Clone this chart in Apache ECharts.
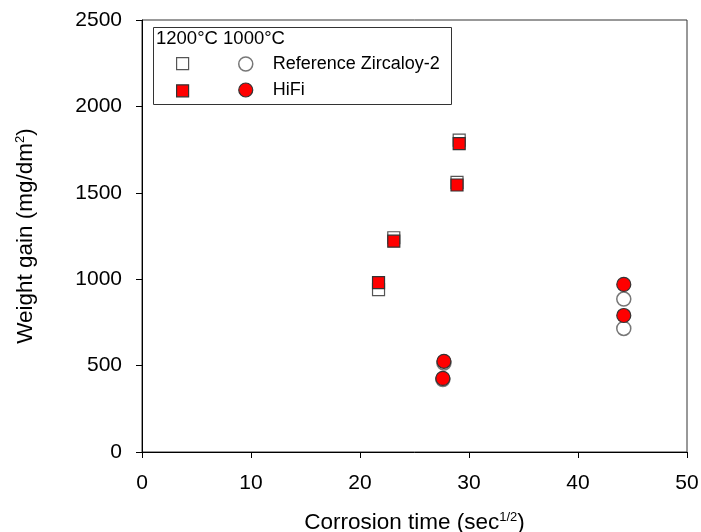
<!DOCTYPE html>
<html>
<head>
<meta charset="utf-8">
<script src="https://cdn.jsdelivr.net/npm/echarts@6/dist/echarts.min.js"></script>
<style>html,body{margin:0;padding:0;background:#fff;}#c{width:701px;height:532px;}</style>
</head>
<body>
<div id="c"></div>
<script>
// Data
const xTicks = [0, 10, 20, 30, 40, 50];
const yTicks = [0, 500, 1000, 1500, 2000, 2500];
const ref1200X = [21.7, 23.1, 28.9, 29.1];
const ref1200Y = [940, 1240, 1560, 1805];
const hifi1200X = [21.7, 23.1, 28.9, 29.1];
const hifi1200Y = [980, 1220, 1545, 1785];
const ref1000X = [27.6, 27.7, 44.2, 44.2];
const ref1000Y = [420, 515, 715, 885];
const hifi1000X = [27.6, 27.7, 44.2, 44.2];
const hifi1000Y = [426, 525, 790, 970];

function pairs(xs, ys) { return xs.map((x, i) => [x, ys[i]]); }

const FONT = 'Liberation Sans, Arial, sans-serif';
const chart = echarts.init(document.getElementById('c'), null, {renderer: 'canvas'});

const sRef1200 = {name: 'Ref 1200', type: 'scatter', symbol: 'rect', symbolSize: 12,
  itemStyle: {color: '#fff', borderColor: '#555', borderWidth: 1.2, opacity: 1},
  data: pairs(ref1200X, ref1200Y)};
const sRef1000 = {name: 'Reference Zircaloy-2', type: 'scatter', symbol: 'circle', symbolSize: 14,
  itemStyle: {color: '#fff', borderColor: '#777', borderWidth: 1.5, opacity: 1},
  data: pairs(ref1000X, ref1000Y)};
const sHifi1200 = {name: 'HiFi 1200', type: 'scatter', symbol: 'rect', symbolSize: 12,
  itemStyle: {color: '#ff0000', borderColor: '#333', borderWidth: 1.2, opacity: 1},
  data: pairs(hifi1200X, hifi1200Y)};
const sHifi1000 = {name: 'HiFi', type: 'scatter', symbol: 'circle', symbolSize: 14,
  itemStyle: {color: '#ff0000', borderColor: '#333', borderWidth: 1.2, opacity: 1},
  data: pairs(hifi1000X, hifi1000Y)};

const supStyle = {fontSize: 13, verticalAlign: 'top', padding: [0, 0, 9, 0], color: '#000', fontFamily: FONT};

chart.setOption({
  animation: false,
  backgroundColor: '#fff',
  textStyle: {fontFamily: FONT},
  grid: {left: 142, right: 14, top: 20, bottom: 80, containLabel: false, outerBoundsMode: 'none',
    show: true, borderColor: '#333', borderWidth: 1, backgroundColor: 'transparent'},
  xAxis: {
    type: 'value', min: xTicks[0], max: xTicks[xTicks.length - 1], interval: 10,
    axisLine: {show: true, lineStyle: {color: '#000', width: 1}},
    axisTick: {show: true, inside: false, length: 6, lineStyle: {color: '#000'}},
    splitLine: {show: false},
    axisLabel: {color: '#000', fontSize: 21, fontFamily: FONT, margin: 21, formatter: v => String(v)},
    name: 'Corrosion time (sec{sup|1/2})',
    nameLocation: 'middle', nameGap: 59,
    nameTextStyle: {color: '#000', fontSize: 22.5, fontFamily: FONT, rich: {sup: supStyle}}
  },
  yAxis: {
    type: 'value', min: yTicks[0], max: yTicks[yTicks.length - 1], interval: 500,
    axisLine: {show: true, lineStyle: {color: '#000', width: 1}},
    axisTick: {show: true, inside: false, length: 6, lineStyle: {color: '#000'}},
    splitLine: {show: false},
    axisLabel: {color: '#000', fontSize: 21, fontFamily: FONT, margin: 20, formatter: v => String(v)},
    name: 'Weight gain (mg/dm{sup|2})',
    nameLocation: 'middle', nameGap: 105, nameRotate: 90,
    nameTextStyle: {color: '#000', fontSize: 22.5, fontFamily: FONT, rich: {sup: supStyle}}
  },
  legend: [
    {
      orient: 'vertical', left: 171, top: 52, itemGap: 14,
      itemWidth: 12, itemHeight: 12, icon: 'rect',
      formatter: function () { return ''; },
      selectedMode: false,
      data: [
        {name: 'Ref 1200', itemStyle: {color: '#fff', borderColor: '#555', borderWidth: 1.2}},
        {name: 'HiFi 1200', itemStyle: {color: '#ff0000', borderColor: '#333', borderWidth: 1.2}}
      ]
    },
    {
      orient: 'vertical', left: 233, top: 50, itemGap: 8,
      itemWidth: 14, itemHeight: 14, icon: 'circle',
      selectedMode: false,
      textStyle: {color: '#000', fontSize: 18, fontFamily: FONT, padding: [0, 0, 0, 15]},
      data: [
        {name: 'Reference Zircaloy-2', itemStyle: {color: '#fff', borderColor: '#777', borderWidth: 1.5}},
        {name: 'HiFi', itemStyle: {color: '#ff0000', borderColor: '#333', borderWidth: 1.2}}
      ]
    }
  ],
  graphic: [
    {type: 'rect', left: 153, top: 27, z: 0, shape: {width: 298, height: 77},
      style: {fill: '#fff', stroke: '#333', lineWidth: 1}},
    {type: 'text', left: 156, top: 29, z: 1,
      style: {text: '1200°C 1000°C', fill: '#000', font: '18.5px ' + FONT}}
  ],
  series: [sRef1200, sRef1000, sHifi1200, sHifi1000]
});
</script>
</body>
</html>
